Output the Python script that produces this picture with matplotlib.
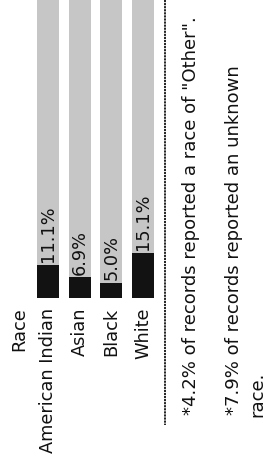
import matplotlib
matplotlib.use("Agg")
import matplotlib.pyplot as plt
from matplotlib.lines import Line2D

categories = ["American Indian", "Asian", "Black", "White"]
values = [11.1, 6.9, 5.0, 15.1]
value_labels = ["11.1%", "6.9%", "5.0%", "15.1%"]
header = "Race"
footnotes = ["*4.2% of records reported a race of \"Other\".",
             "*7.9% of records reported an unknown",
             "race."]

W, H = 267, 468
fig = plt.figure(figsize=(W / 100, H / 100), dpi=100)
fig.patch.set_facecolor("white")

def px(x0, y0, x1, y1):
    # pixel box (top-left origin) -> figure fraction [left, bottom, w, h]
    return [x0 / W, 1 - y1 / H, (x1 - x0) / W, (y1 - y0) / H]

ax = fig.add_axes(px(32, -1, 159, 298))
ax.set_xlim(-0.5, len(categories) - 0.5)
ax.set_ylim(0, 100)
ax.axis("off")

xs = list(range(len(categories)))
ax.bar(xs, [100] * len(xs), width=0.70, color="#c6c6c6", zorder=1)
ax.bar(xs, values, width=0.70, color="#121212", zorder=2)

font = "DejaVu Sans"
fs = 12.8
for x, v, lab in zip(xs, values, value_labels):
    ax.annotate(lab, (x, v), xytext=(0, 2), textcoords="offset points",
                rotation=90, ha="center", va="bottom", fontsize=fs,
                family=font, color="#111111")
for x, c in zip(xs, categories):
    ax.annotate(c, (x, 0), xytext=(0, -7), textcoords="offset points",
                rotation=90, ha="center", va="top", fontsize=fs,
                family=font, color="#111111", annotation_clip=False)
ax.annotate(header, (-1, 0), xytext=(2, -7), textcoords="offset points",
            rotation=90, ha="center", va="top", fontsize=fs,
            family=font, color="#111111", annotation_clip=False)

fig.add_artist(Line2D([165 / W, 165 / W], [1, 1 - 425 / H],
                      transform=fig.transFigure, color="#111111",
                      lw=1.3, ls=(0, (1.2, 0.5))))

fig.text(191 / W, 1 - 415 / H, footnotes[0], rotation=90, ha="center",
         va="bottom", fontsize=13, family=font, color="#111111")
fig.text(234 / W, 1 - 415 / H, footnotes[1], rotation=90, ha="center",
         va="bottom", fontsize=13, family=font, color="#111111")
fig.text(257 / W, 1 - 417 / H, footnotes[2], rotation=90, ha="center",
         va="bottom", fontsize=13, family=font, color="#111111")

fig.savefig("out.png", dpi=100)
